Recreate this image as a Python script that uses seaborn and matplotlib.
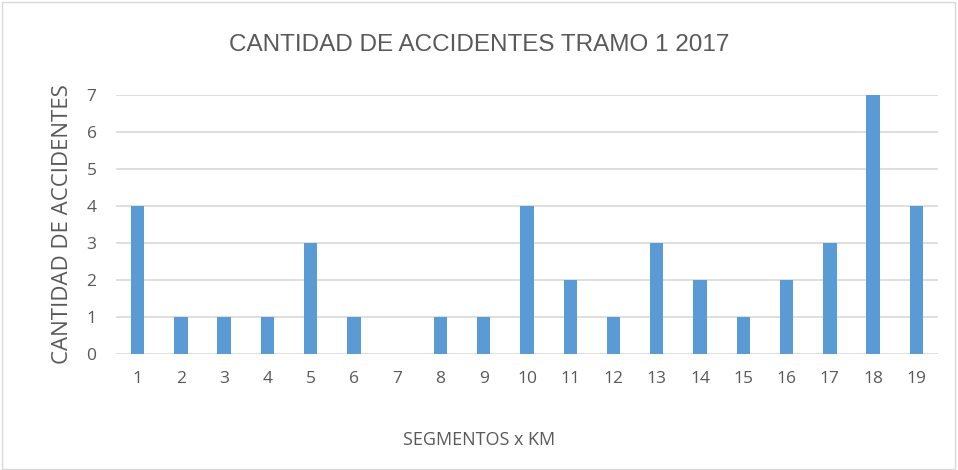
import pandas as pd
import numpy as np
import matplotlib.pyplot as plt
import seaborn as sns
from matplotlib.patches import Rectangle

# ===============================
# DATA
# ===============================
segmentos = [str(i) for i in range(1, 20)]
accidentes = [4, 1, 1, 1, 3, 1, 0, 1, 1, 4, 2, 1, 3, 2, 1, 2, 3, 7, 4]

df = pd.DataFrame({"segmento": segmentos, "accidentes": accidentes})

sns.set_theme(style="white")
plt.rcParams['font.family'] = ['Open Sans', 'DejaVu Sans']

gris = "#595959"
azul = "#5B9BD5"

fig = plt.figure(figsize=(9.58, 4.70), dpi=100)
ax = fig.add_axes([0.1211, 0.2468, 0.8580, 0.5517])

sns.barplot(data=df, x="segmento", y="accidentes", color=azul,
            width=0.31, saturation=1, linewidth=0, ax=ax, zorder=3)

ax.set_ylim(0, 7)
ax.set_yticks(range(0, 8))
ax.yaxis.grid(True, color="#D9D9D9", linewidth=1.2, zorder=0)
ax.set_axisbelow(True)
for s in ax.spines.values():
    s.set_visible(False)
ax.tick_params(axis="both", length=0, labelsize=12.5, colors=gris, pad=12)
ax.tick_params(axis="y", pad=14)

ax.set_xlabel("")
ax.set_ylabel("CANTIDAD DE ACCIDENTES", fontsize=16, color=gris, labelpad=10)

# etiqueta x centrada en la figura, como en el original
fig.text(0.5, 0.064, "SEGMENTOS x KM", ha="center", va="center",
         fontsize=13, color=gris)

fig.text(0.5, 0.905, "CANTIDAD DE ACCIDENTES TRAMO 1 2017",
         ha="center", va="center", fontsize=17.5, color=gris,
         family=['Liberation Sans Narrow', 'Liberation Sans', 'DejaVu Sans'])

# marco del grafico
fig.patches.append(Rectangle((0.002, 0.003), 0.995, 0.993, transform=fig.transFigure,
                             fill=False, edgecolor="#D9D9D9", linewidth=1))

plt.savefig("out.png", dpi=100)
